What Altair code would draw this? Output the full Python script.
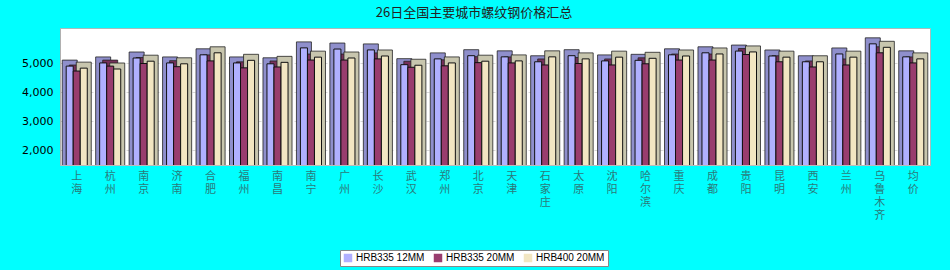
import altair as alt
import pandas as pd

cities = ["上海", "杭州", "南京", "济南", "合肥", "福州", "南昌", "南宁", "广州", "长沙",
          "武汉", "郑州", "北京", "天津", "石家庄", "太原", "沈阳", "哈尔滨", "重庆", "成都",
          "贵阳", "昆明", "西安", "兰州", "乌鲁木齐", "均价"]
series = ["HRB335 12MM", "HRB335 20MM", "HRB400 20MM"]

hrb335_12 = [4900, 5010, 5180, 5010, 5290, 5010, 4980, 5530, 5490, 5460,
             4950, 5150, 5260, 5220, 5050, 5260, 5080, 5100, 5290, 5360,
             5420, 5250, 5050, 5320, 5670, 5220]
hrb335_20 = [4730, 4900, 4990, 4880, 5080, 4840, 4870, 5110, 5110, 5150,
             4860, 4910, 5020, 5010, 4940, 4990, 4940, 4980, 5110, 5110,
             5300, 5050, 4870, 4940, 5360, 5010]
hrb400_20 = [4830, 4800, 5070, 4980, 5360, 5100, 5030, 5210, 5180, 5250,
             4930, 5010, 5070, 5080, 5220, 5150, 5210, 5170, 5250, 5320,
             5390, 5210, 5050, 5210, 5550, 5150]

front_colors = ["#b0b0ff", "#993d6e", "#f2e6c2"]
depth_colors = ["#8f8fcc", "#76305a", "#c8c6ae"]

rows = []
for i, c in enumerate(cities):
    for s, vals in zip(series, [hrb335_12, hrb335_20, hrb400_20]):
        rows.append({"city": c, "series": s, "price": vals[i]})
df = pd.DataFrame(rows)

CJK = "Noto Sans CJK SC"
yscale = alt.Scale(domain=[1483, 6217], nice=False, zero=False)

x_enc = alt.X("city:N", sort=cities,
              scale=alt.Scale(paddingInner=0.37, paddingOuter=0.185),
              axis=alt.Axis(title=None, labelAngle=0, ticks=False, domain=True,
                            domainColor="#bbbbbb", labelExpr="split(datum.label, '')",
                            labelFont=CJK, labelFontSize=11, labelColor="#2a7a7a",
                            labelLineHeight=13, labelPadding=5, labelBaseline="top"))
xo_enc = alt.XOffset("series:N", sort=series, scale=alt.Scale(paddingInner=0, paddingOuter=0))
y_enc = alt.Y("price:Q", scale=yscale,
              axis=alt.Axis(title=None, values=[2000, 3000, 4000, 5000], format=",d",
                            ticks=False, domain=True, domainColor="#b0b0b0",
                            labelFont="DejaVu Sans", labelFontSize=11, labelColor="#000000",
                            labelPadding=7, grid=True, gridColor="#d8d8d8", gridDash=[3, 3]))

depth = alt.Chart(df).mark_bar(width=15, xOffset=8, yOffset=-6, clip=True,
                               stroke="#222222", strokeWidth=0.8).encode(
    x=x_enc, xOffset=xo_enc, y=y_enc,
    color=alt.Color("series:N", sort=series,
                    scale=alt.Scale(domain=series, range=depth_colors), legend=None),
)

front = alt.Chart(df).mark_bar(clip=True, stroke="#111111", strokeWidth=1).encode(
    x=x_enc, xOffset=xo_enc, y=y_enc,
    color=alt.Color("series:N", sort=series,
                    scale=alt.Scale(domain=series, range=front_colors),
                    legend=alt.Legend(title=None, orient="none", direction="horizontal",
                                      legendX=280, legendY=222, fillColor="#ffffff",
                                      strokeColor="#888888", padding=3,
                                      symbolType="square", symbolSize=72,
                                      symbolStrokeWidth=0, labelFont="Liberation Sans",
                                      labelFontSize=10, labelColor="#000000",
                                      labelOffset=3, columnPadding=8)),
)

chart = alt.layer(depth, front).resolve_scale(color="independent").properties(
    width=870, height=137,
    background="#00ffff",
    autosize=alt.AutoSizeParams(type="none"),
    padding={"left": 60, "top": 28, "right": 20, "bottom": 105},
    title=alt.Title("26日全国主要城市螺纹钢价格汇总", font=CJK, fontSize=13,
                    fontWeight="normal", color="#222222", offset=8, dx=-21),
).configure_view(fill="#ffffff", stroke="#a8bcbc", strokeWidth=1)

chart.save("out.html", embed_options={"renderer": "svg", "actions": False})
